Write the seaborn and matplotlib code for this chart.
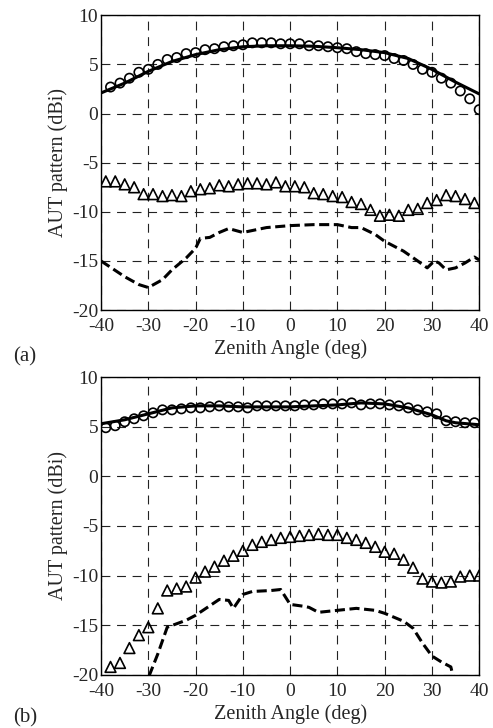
import numpy as np
import pandas as pd
import matplotlib
matplotlib.use("Agg")
import matplotlib.pyplot as plt
import seaborn as sns

# ---- panel (a) ----
a_circ_x = list(range(-38, 41, 2))
a_circ_y = [2.7, 3.1, 3.6, 4.2, 4.5, 5.0, 5.5, 5.7, 6.1, 6.2,
            6.5, 6.6, 6.8, 6.9, 7.0, 7.2, 7.2, 7.2, 7.1, 7.1,
            7.1, 6.9, 6.9, 6.8, 6.7, 6.6, 6.3, 6.1, 6.0, 5.9,
            5.6, 5.4, 5.0, 4.5, 4.2, 3.6, 3.1, 2.3, 1.5, 0.4]
a_solid_x = [-40, -35, -30, -25, -20, -15, -10, -5, 0, 5, 10, 15, 20, 25, 30, 35, 40]
a_solid_y = [2.1, 3.1, 4.3, 5.3, 6.0, 6.5, 6.8, 6.9, 6.9, 6.85, 6.7, 6.5, 6.2, 5.6, 4.5, 3.2, 2.0]
a_tri_x = list(range(-39, 40, 2))
a_tri_y = [-6.9, -6.9, -7.2, -7.5, -8.2, -8.2, -8.4, -8.3, -8.4, -7.9,
           -7.7, -7.6, -7.3, -7.4, -7.2, -7.1, -7.1, -7.2, -7.0, -7.4,
           -7.4, -7.5, -8.1, -8.2, -8.4, -8.5, -9.0, -9.2, -9.8, -10.4,
           -10.3, -10.4, -9.8, -9.7, -9.1, -8.8, -8.3, -8.4, -8.7, -9.1]
a_dash_x = [-40, -37.5, -35, -32, -30, -27, -25, -22, -20, -19, -17, -15, -13, -10, -5, 0, 5, 10,
            13, 15, 18, 20, 24, 27, 29, 30.5, 31.5, 33, 35, 37, 39, 40]
a_dash_y = [-15.0, -15.8, -16.6, -17.4, -17.7, -16.9, -15.9, -14.7, -13.7, -12.7, -12.6, -12.1,
            -11.7, -12.1, -11.6, -11.4, -11.3, -11.3, -11.6, -11.6, -12.3, -13.0, -14.0, -15.0,
            -15.7, -15.0, -15.2, -15.9, -15.7, -15.2, -14.6, -14.9]

# ---- panel (b) ----
b_circ_x = list(range(-39, 40, 2))
b_circ_y = [4.9, 5.1, 5.5, 5.8, 6.1, 6.4, 6.7, 6.7, 6.8, 6.9,
            6.9, 7.0, 7.1, 7.0, 7.0, 6.9, 7.1, 7.1, 7.1, 7.1,
            7.1, 7.2, 7.2, 7.3, 7.3, 7.3, 7.4, 7.2, 7.3, 7.3,
            7.2, 7.1, 6.9, 6.7, 6.5, 6.3, 5.6, 5.5, 5.4, 5.4]
b_solid_x = [-40, -35, -30, -25, -20, -15, -10, -5, 0, 5, 10, 15, 20, 25, 30, 33, 35, 40]
b_solid_y = [5.3, 5.7, 6.3, 6.9, 7.1, 7.1, 7.0, 7.0, 7.0, 7.1, 7.2, 7.4, 7.3, 6.9, 6.2, 5.6, 5.4, 5.2]
b_tri_x = list(range(-38, 41, 2))
b_tri_y = [-19.2, -18.8, -17.3, -16.0, -15.2, -13.3, -11.5, -11.3, -11.1, -10.2,
           -9.6, -9.1, -8.5, -8.0, -7.5, -6.9, -6.6, -6.4, -6.2, -6.1,
           -6.0, -5.9, -5.8, -5.9, -5.9, -6.2, -6.4, -6.7, -7.1, -7.6,
           -7.8, -8.4, -9.2, -10.3, -10.6, -10.7, -10.6, -10.1, -10.0, -10.0]
b_dash_x = [-31, -28, -26, -22, -20, -15, -13, -12, -10, -8, -4, -2, 0, 3, 4, 6, 10, 14,
            18, 20, 24, 26, 28, 30, 32, 34, 34.5, 35]
b_dash_y = [-21.5, -17.9, -15.2, -14.5, -14.0, -12.4, -12.5, -13.3, -11.9, -11.6, -11.5, -11.4,
            -12.9, -13.1, -13.2, -13.7, -13.5, -13.3, -13.5, -13.8, -14.6, -15.3, -16.8, -18.1,
            -18.7, -19.2, -20.2, -21.0]

x_ticks = [-40, -30, -20, -10, 0, 10, 20, 30, 40]
y_ticks = [-20, -15, -10, -5, 0, 5, 10]

sns.set_style("white")
plt.rcParams['font.family'] = ['Liberation Serif', 'DejaVu Serif']
plt.rcParams['axes.unicode_minus'] = False
plt.rcParams['font.size'] = 14

fig = plt.figure(figsize=(4.93, 7.28), dpi=100)
ax_a = fig.add_axes([0.205, 0.574, 0.767, 0.405])
ax_b = fig.add_axes([0.205, 0.073, 0.767, 0.409])


def draw_panel(ax, cx, cy, sx, sy, tx, ty, dx, dy):
    sns.lineplot(x=sx, y=sy, ax=ax, color='black', linewidth=2.2, sort=False)
    sns.lineplot(x=dx, y=dy, ax=ax, color='black', linewidth=2.2, sort=False,
                 linestyle=(0, (3.3, 1.5)))
    sns.scatterplot(x=cx, y=cy, ax=ax, marker='o', s=45, facecolor='none',
                    edgecolor='black', linewidth=1.2, zorder=3)
    sns.scatterplot(x=tx, y=ty, ax=ax, marker='^', s=60, facecolor='none',
                    edgecolor='black', linewidth=1.2, zorder=3)
    ax.set_xlim(-40, 40)
    ax.set_ylim(-20, 10)
    ax.set_xticks(x_ticks)
    ax.set_yticks(y_ticks)
    ax.grid(True, color='#222222', linestyle=(0, (8, 6)), linewidth=0.8)
    ax.tick_params(axis='both', direction='in', length=3, width=0.8, labelsize=14)
    ax.tick_params(axis='x', pad=6)
    ax.tick_params(axis='y', pad=2)
    for sp in ax.spines.values():
        sp.set_color('black')
        sp.set_linewidth(1.0)
    ax.set_xlabel('Zenith Angle (deg)', fontsize=14.5, labelpad=3)
    ax.set_ylabel('AUT pattern (dBi)', fontsize=14.5, labelpad=3)


draw_panel(ax_a, a_circ_x, a_circ_y, a_solid_x, a_solid_y, a_tri_x, a_tri_y, a_dash_x, a_dash_y)
draw_panel(ax_b, b_circ_x, b_circ_y, b_solid_x, b_solid_y, b_tri_x, b_tri_y, b_dash_x, b_dash_y)

fig.text(13 / 493, 1 - 357 / 728, '(a)', fontsize=15, va='center', ha='left')
fig.text(13 / 493, 1 - 718 / 728, '(b)', fontsize=15, va='center', ha='left')

fig.savefig('out.png', dpi=100)
